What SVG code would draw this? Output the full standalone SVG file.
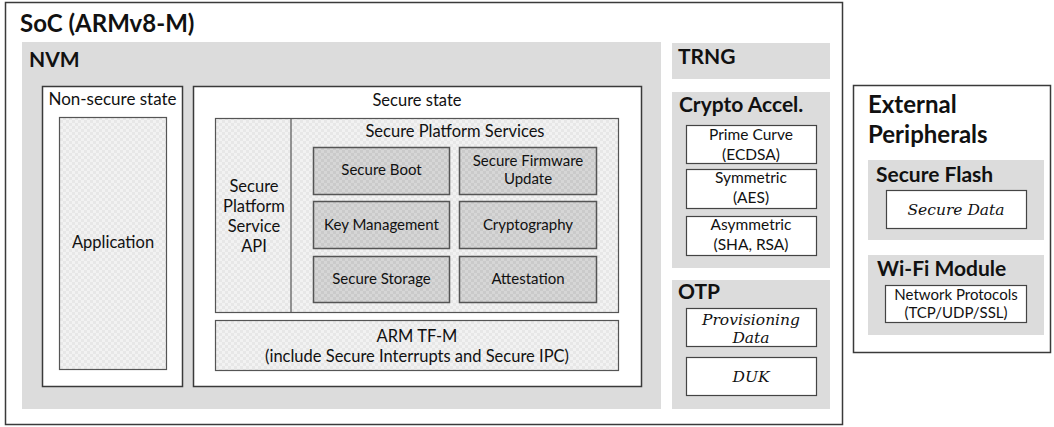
<svg xmlns="http://www.w3.org/2000/svg" width="1054" height="427" viewBox="0 0 1054 427">
<defs>
<pattern id="pl" width="6" height="6" patternUnits="userSpaceOnUse"><rect width="6" height="6" fill="#f2f2f2"/><rect width="3" height="3" fill="#e7e7e7"/><rect x="3" y="3" width="3" height="3" fill="#e7e7e7"/></pattern>
<pattern id="pd" width="6" height="6" patternUnits="userSpaceOnUse"><rect width="6" height="6" fill="#d6d6d6"/><rect width="3" height="3" fill="#cacaca"/><rect x="3" y="3" width="3" height="3" fill="#cacaca"/></pattern>
</defs>
<style>
.frame{fill:#fff;stroke:#3a3a3a;stroke-width:1.5}
.gray{fill:#dcdcdc}
.box{fill:#fff;stroke:#444;stroke-width:1.2}
.lt{fill:url(#pl);stroke:#555;stroke-width:1.2}
.dk{fill:url(#pd);stroke:#555;stroke-width:1.5}
text{font-family:Lato,"Open Sans","Liberation Sans",sans-serif;fill:#111}
.h1{font-size:24px;font-weight:bold}
.h2{font-size:21px;font-weight:bold}
.t{font-size:16.5px;text-anchor:middle}
.s{font-size:15px;text-anchor:middle}
.c{font-size:15.5px;text-anchor:middle}
.i{font-family:"DejaVu Serif","Liberation Serif",serif;font-style:italic;font-size:15.5px;text-anchor:middle}
</style>
<g id="soc">
<rect class="frame" x="5.5" y="2.5" width="837" height="422"/>
<text class="h1" x="20" y="32">SoC (ARMv8-M)</text>
</g>
<g id="nvm">
<rect class="gray" x="22" y="42" width="639" height="367"/>
<text class="h2" x="29" y="67">NVM</text>
</g>
<g id="non-secure">
<rect class="frame" x="42.5" y="86.5" width="140" height="300"/>
<text class="t" x="112.5" y="105" style="font-size:17px">Non-secure state</text>
</g>
<g id="application">
<rect class="lt" x="59.5" y="117.5" width="107" height="252"/>
<text class="t" x="113" y="248">Application</text>
</g>
<g id="secure">
<rect class="frame" x="193.5" y="86.5" width="448" height="300"/>
<text class="t" x="417" y="106">Secure state</text>
</g>
<g id="sps">
<rect class="lt" x="215.5" y="118.5" width="403" height="194"/>
<line x1="291" y1="118.5" x2="291" y2="312.5" stroke="#555" stroke-width="1.2"/>
<text class="t" x="455" y="137">Secure Platform Services</text>
</g>
<g id="api">
<text class="t" x="254" y="192">Secure</text>
<text class="t" x="254" y="212">Platform</text>
<text class="t" x="254" y="232">Service</text>
<text class="t" x="254" y="252">API</text>
</g>
<g id="secure-boot">
<rect class="dk" x="313.5" y="147.5" width="136" height="47"/>
<text class="s" x="381.5" y="175">Secure Boot</text>
</g>
<g id="sfu">
<rect class="dk" x="459.5" y="147.5" width="137" height="47"/>
<text class="s" x="528" y="166">Secure Firmware</text>
<text class="s" x="528" y="184">Update</text>
</g>
<g id="key-mgmt">
<rect class="dk" x="313.5" y="201.5" width="136" height="47"/>
<text class="s" x="381.5" y="230">Key Management</text>
</g>
<g id="cryptography">
<rect class="dk" x="459.5" y="201.5" width="137" height="47"/>
<text class="s" x="528" y="230">Cryptography</text>
</g>
<g id="secure-storage">
<rect class="dk" x="313.5" y="256.5" width="136" height="46"/>
<text class="s" x="381.5" y="284">Secure Storage</text>
</g>
<g id="attestation">
<rect class="dk" x="459.5" y="256.5" width="137" height="46"/>
<text class="s" x="528" y="284">Attestation</text>
</g>
<g id="tfm">
<rect class="lt" x="215.5" y="320.5" width="403" height="50"/>
<text class="t" x="417" y="342">ARM TF-M</text>
<text class="t" x="417" y="362">(include Secure Interrupts and Secure IPC)</text>
</g>
<g id="trng">
<rect class="gray" x="672" y="43" width="158" height="36"/>
<text class="h2" x="678" y="64">TRNG</text>
</g>
<g id="crypto-accel">
<rect class="gray" x="672" y="92" width="158" height="176"/>
<text class="h2" x="679" y="112">Crypto Accel.</text>
</g>
<g id="prime-curve">
<rect class="box" x="686.5" y="125.5" width="130" height="38"/>
<text class="c" x="751" y="140">Prime Curve</text>
<text class="c" x="751" y="160">(ECDSA)</text>
</g>
<g id="symmetric">
<rect class="box" x="686.5" y="169.5" width="130" height="39"/>
<text class="c" x="751" y="183">Symmetric</text>
<text class="c" x="751" y="203">(AES)</text>
</g>
<g id="asymmetric">
<rect class="box" x="686.5" y="216.5" width="130" height="39"/>
<text class="c" x="751" y="230">Asymmetric</text>
<text class="c" x="751" y="250">(SHA, RSA)</text>
</g>
<g id="otp">
<rect class="gray" x="672" y="280" width="158" height="129"/>
<text class="h2" x="678" y="299">OTP</text>
</g>
<g id="provisioning">
<rect class="box" x="686.5" y="308.5" width="130" height="38"/>
<text class="i" x="751" y="325">Provisioning</text>
<text class="i" x="751" y="343">Data</text>
</g>
<g id="duk">
<rect class="box" x="686.5" y="357.5" width="130" height="38"/>
<text class="i" x="751" y="382">DUK</text>
</g>
<g id="external">
<rect class="frame" x="853.5" y="85.5" width="197" height="267"/>
<text class="h1" x="868" y="113">External</text>
<text class="h1" x="868" y="143">Peripherals</text>
</g>
<g id="secure-flash">
<rect class="gray" x="868" y="160" width="176" height="80"/>
<text class="h2" x="876" y="182">Secure Flash</text>
<rect class="box" x="886.5" y="190.5" width="140" height="38"/>
<text class="i" x="956" y="215">Secure Data</text>
</g>
<g id="wifi">
<rect class="gray" x="868" y="255" width="176" height="80"/>
<text class="h2" x="877" y="276">Wi-Fi Module</text>
<rect class="box" x="885.5" y="285.5" width="141" height="37"/>
<text class="s" x="956" y="300">Network Protocols</text>
<text class="s" x="956" y="318">(TCP/UDP/SSL)</text>
</g>
<g id="connectors"/>
</svg>
